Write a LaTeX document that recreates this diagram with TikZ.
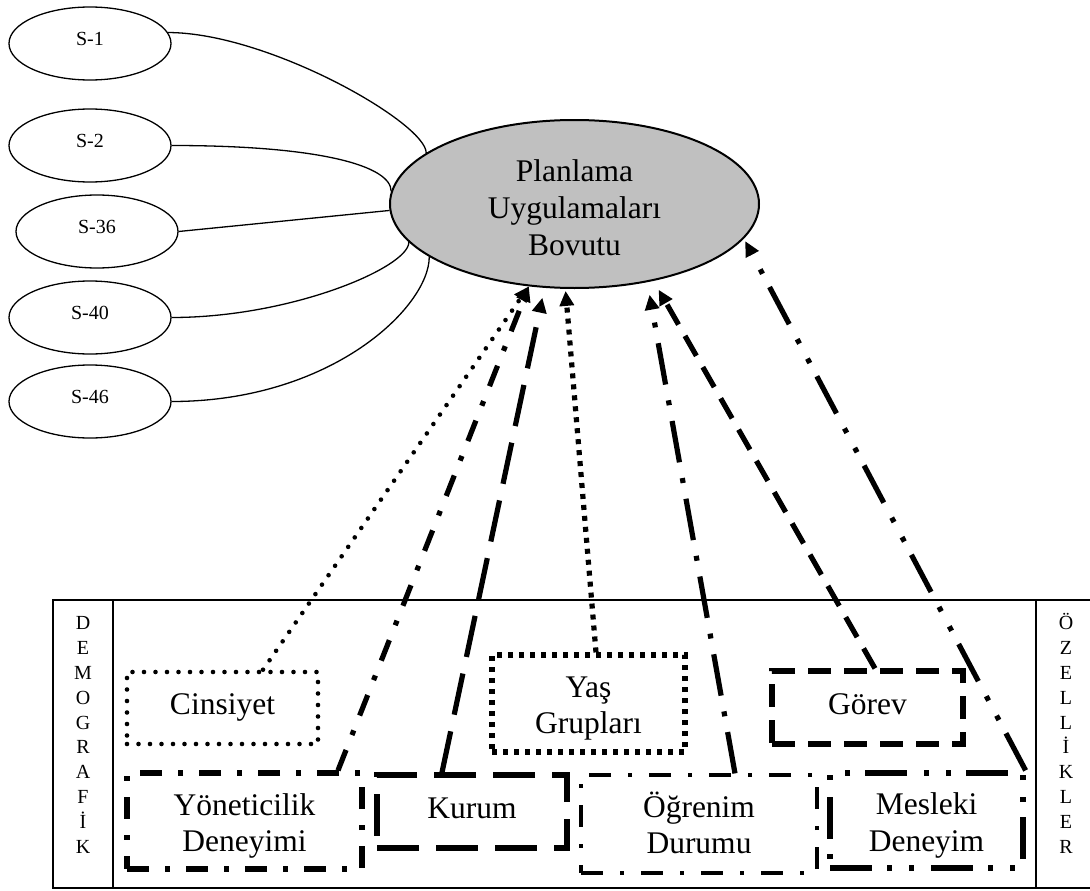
\documentclass[tikz,border=0pt]{standalone}
\usepackage{fontspec}
\setmainfont{Liberation Serif}
\usetikzlibrary{shapes.geometric,arrows.meta}
\definecolor{ovalgray}{HTML}{C0C0C0}
\newcommand{\twol}[2]{\begin{tabular}[t]{@{}c@{}}#1\\#2\end{tabular}}
\tikzset{
 thinln/.style={line width=1.3pt},
 sell/.style={ellipse, draw, line width=1.3pt, minimum width=162pt, minimum height=73pt, inner sep=0pt,
   font=\fontsize{20}{24}\selectfont, text height=4pt, text depth=0pt},
 boxshape/.style={rectangle, draw, inner sep=0pt},
 lbl/.style={anchor=base, inner sep=0pt, font=\fontsize{31.5}{36.5}\selectfont},
 stack/.style={inner sep=0pt, align=center, font=\fontsize{20}{24.9}\selectfont, text height=237pt, text depth=0pt},
 roundDots/.style={line width=4.6pt, line cap=round, dash pattern=on 0pt off 11.5pt},
 sqDots/.style={line width=5.2pt, dash pattern=on 5pt off 6pt},
 longDash/.style={line width=5.2pt, dash pattern=on 42pt off 17pt},
 medDash/.style={line width=5.2pt, dash pattern=on 23pt off 13pt},
 dashDot/.style={line width=5.2pt, dash pattern=on 22pt off 16pt on 5pt off 16pt},
 thinDashDot/.style={line width=3.2pt, dash pattern=on 22pt off 17pt on 4pt off 17pt},
 longDashDot/.style={line width=5.2pt, dash pattern=on 42pt off 16pt on 5pt off 16pt},
 dashDotDot/.style={line width=5.2pt, dash pattern=on 42pt off 15pt on 5pt off 17pt on 5pt off 17pt},
 arr/.style={-{Triangle[length=15pt,width=14pt]}},
}
\begin{document}
\begin{tikzpicture}[x=1pt,y=-1pt]
\useasboundingbox (0,0) rectangle (1090,891);

% frame
\draw[line width=2pt] (53,600) rectangle (1100,888);
\draw[line width=2pt] (113,600) -- (113,888);
\draw[line width=2pt] (1036,600) -- (1036,888);
\node[stack] (demo) at (83,735) {D\\E\\M\\O\\G\\R\\A\\F\\İ\\K};
\node[stack] (ozel) at (1066,735) {Ö\\Z\\E\\L\\L\\İ\\K\\L\\E\\R};

% small ellipses
\node[sell] (s1) at (90,43.5) {S-1};
\node[sell] (s2) at (90,145.5) {S-2};
\node[sell] (s36) at (97,231.5) {S-36};
\node[sell] (s40) at (90,317.5) {S-40};
\node[sell] (s46) at (90,401.5) {S-46};

% main ellipse
\node[ellipse, draw, line width=2pt, fill=ovalgray, minimum width=369pt, minimum height=168pt, inner sep=0pt]
  (main) at (574.5,204) {};
\node[lbl, font=\fontsize{31.5}{36.7}\selectfont] (mainT) at (574.5,181.7)
  {\begin{tabular}[t]{@{}c@{}}Planlama\\Uygulamaları\\Bovutu\end{tabular}};

% connectors to small ellipses
\draw[thinln] (s1.8) .. controls +(100,0) and +(0,-30) .. (main.161);
\draw[thinln] (s2.east) .. controls +(150,0) and +(0,-25) .. (main.176.5);
\draw[thinln] (s36.east) -- (main.182);
\draw[thinln] (s40.east) .. controls +(120,0) and +(0,25) .. (main.193);
\draw[thinln] (s46.east) .. controls +(160,0) and +(0,50) .. (main.200.6);

% boxes
\node[boxshape, roundDots, minimum width=191pt, minimum height=72pt] (cins) at (222.5,708) {};
\node[boxshape, sqDots, minimum width=193pt, minimum height=97pt] (yas) at (588.5,703.5) {};
\node[boxshape, medDash, minimum width=191pt, minimum height=73pt] (gor) at (867.5,707.5) {};
\node[boxshape, dashDot, minimum width=235pt, minimum height=96pt] (yon) at (244.5,821) {};
\node[boxshape, longDash, minimum width=190pt, minimum height=73pt] (kur) at (472,811.5) {};
\node[boxshape, thinDashDot, minimum width=236pt, minimum height=98pt] (ogr) at (699,824) {};
\node[boxshape, dashDotDot, minimum width=193pt, minimum height=95pt] (mes) at (926.5,820.5) {};

% box labels
\node[lbl] (cinsT) at (222.5,714) {Cinsiyet};
\node[lbl] (yasT) at (588.5,697) {\twol{Yaş}{Grupları}};
\node[lbl] (gorT) at (867.5,714) {Görev};
\node[lbl] (yonT) at (244.5,815) {\twol{Yöneticilik}{Deneyimi}};
\node[lbl] (kurT) at (472,818) {Kurum};
\node[lbl] (ogrT) at (699,817) {\twol{Öğrenim}{Durumu}};
\node[lbl] (mesT) at (926.5,814.5) {\twol{Mesleki}{Deneyim}};

% arrows
\draw[roundDots, arr] ([xshift=40.5pt]cins.north) -- (main.241);
\draw[dashDot, arr] ([xshift=93.5pt]yon.north) -- (main.241);
\draw[longDash, arr] ([xshift=-30pt]kur.north) -- ([yshift=-10pt]main.249);
\draw[sqDots, arr] ([xshift=7.5pt]yas.north) -- ([yshift=-2pt]main.264);
\draw[longDashDot, arr] ([xshift=36pt]ogr.north) -- ([yshift=-13pt]main.314);
\draw[medDash, arr] ([xshift=7.5pt]gor.north) -- ([yshift=-10pt]main.318);
\draw[dashDotDot, arr] (mes.north east) -- ([yshift=-4pt]main.349);
\end{tikzpicture}
\end{document}
